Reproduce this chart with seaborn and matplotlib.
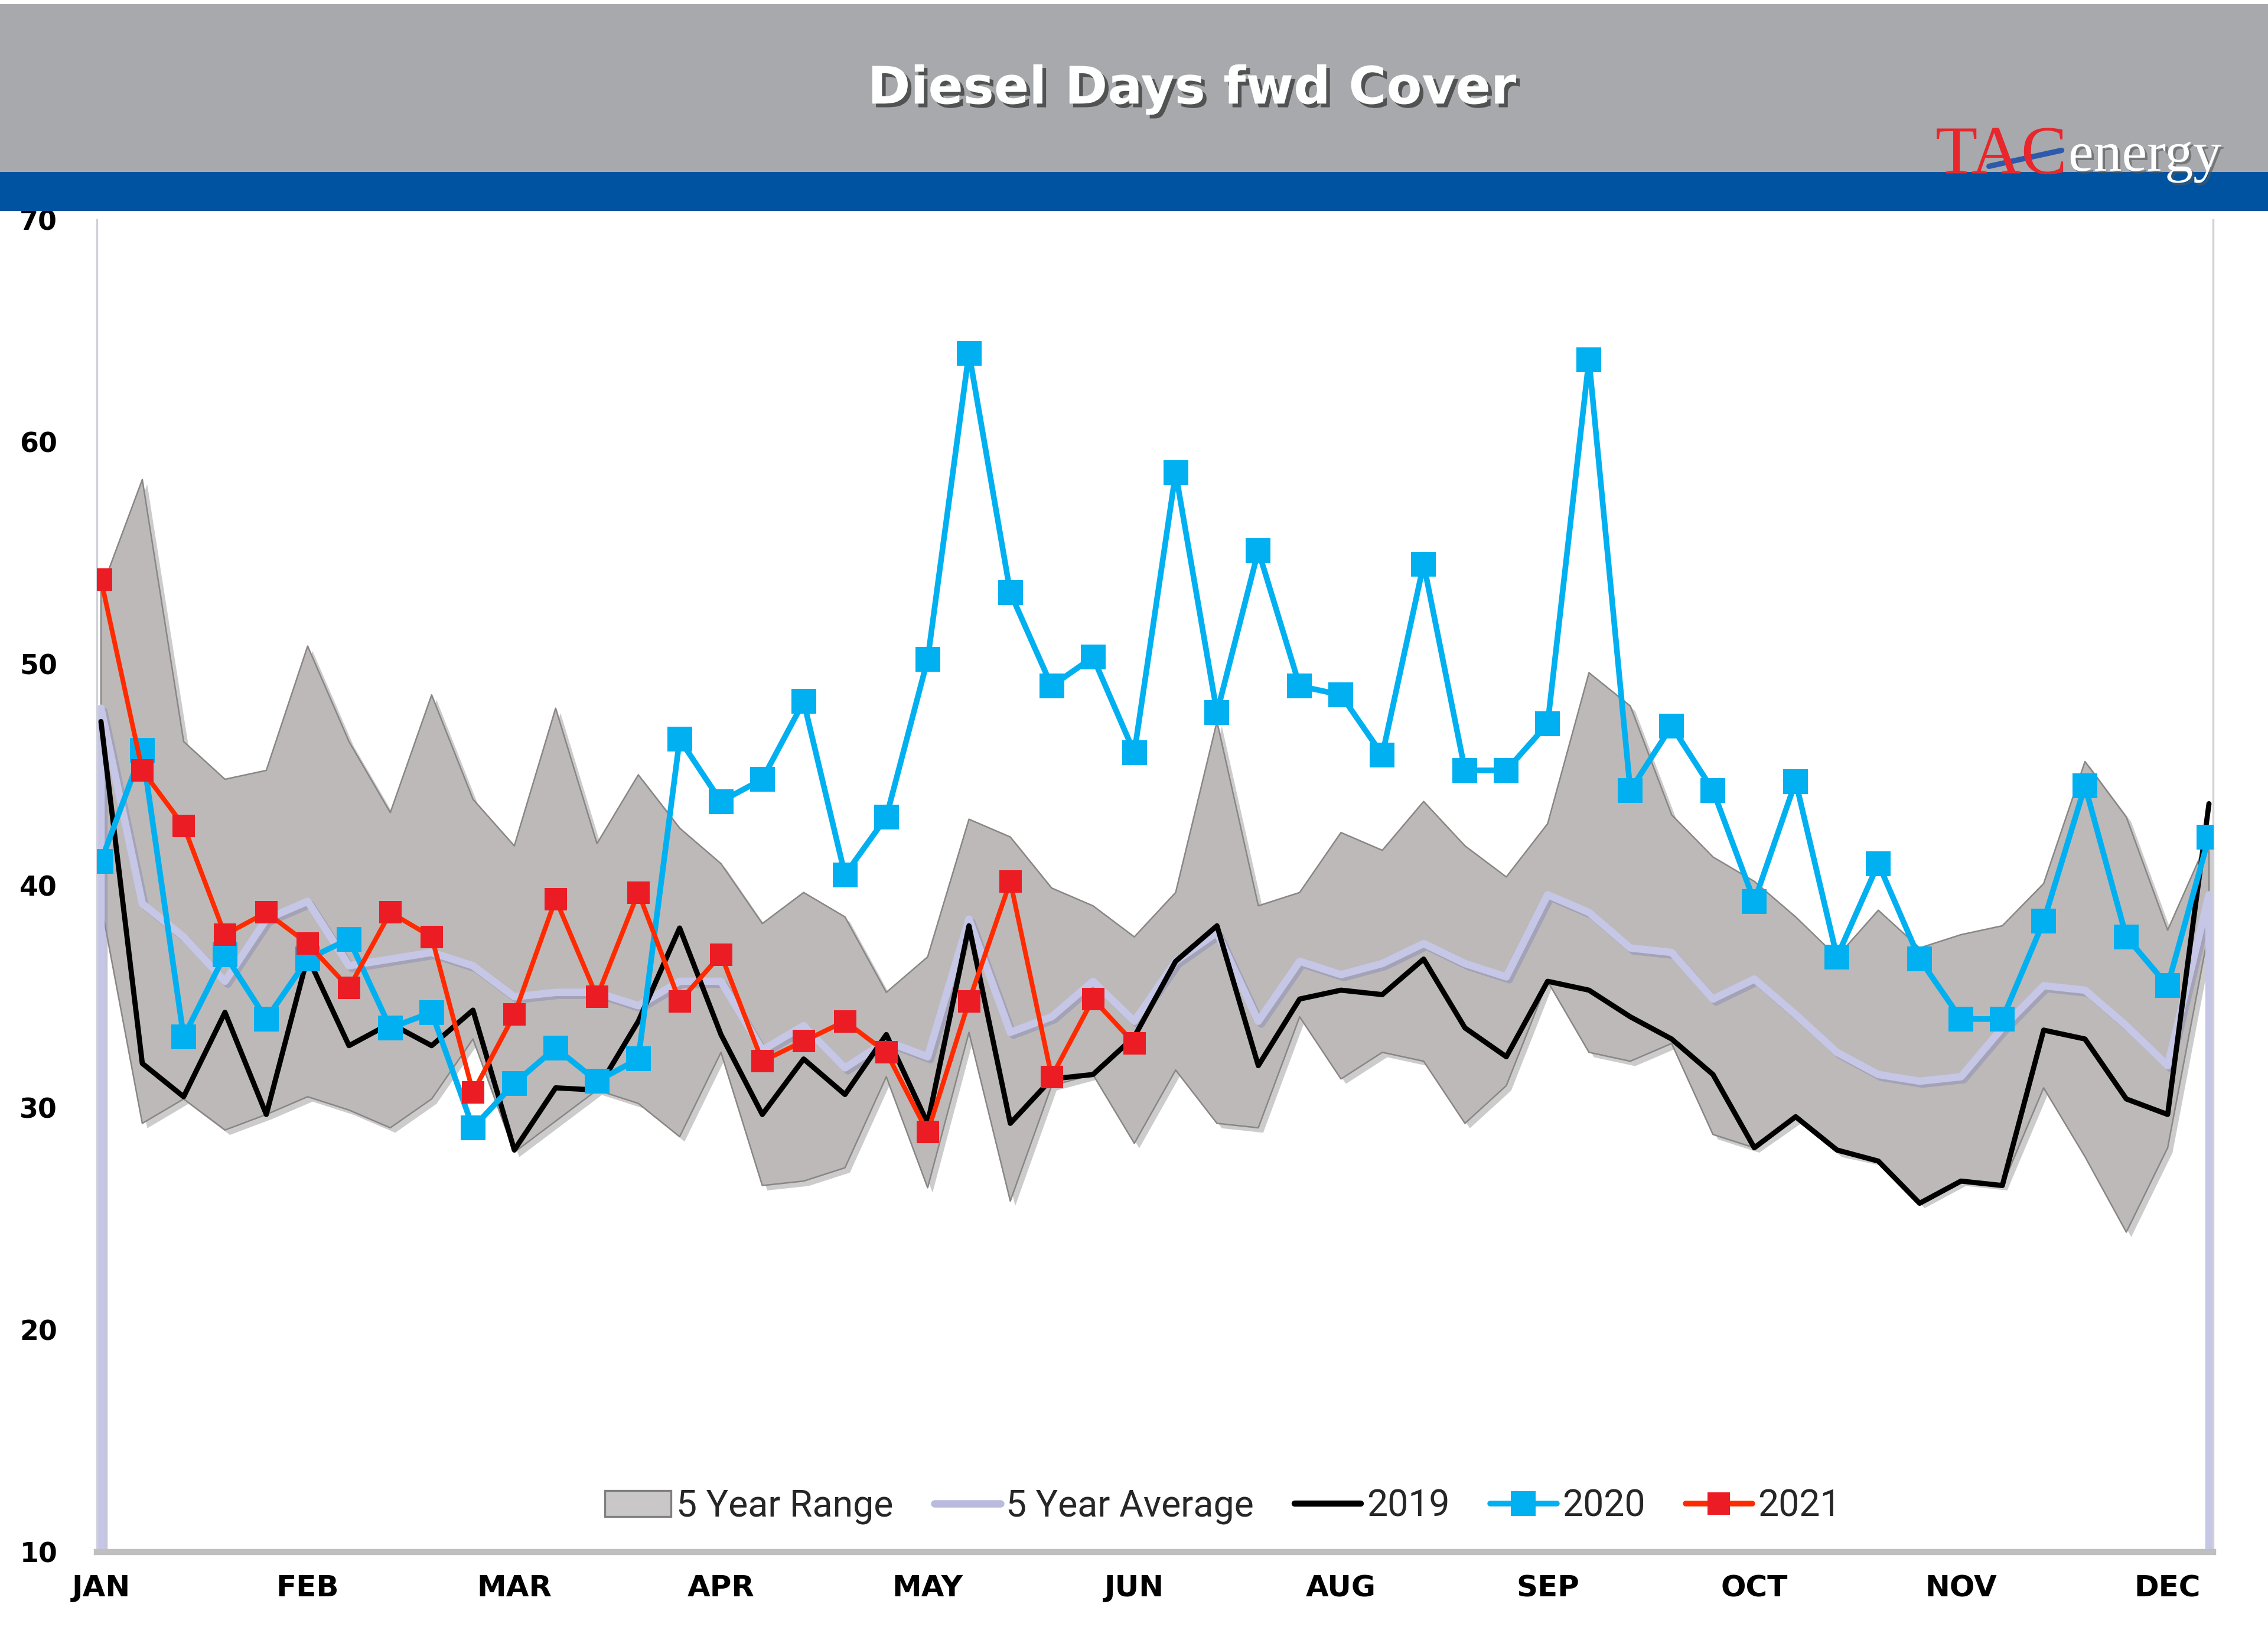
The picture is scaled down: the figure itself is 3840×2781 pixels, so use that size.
import matplotlib
matplotlib.use("Agg")
import matplotlib.pyplot as plt
import matplotlib.patheffects as pe
from matplotlib.lines import Line2D
from matplotlib.patches import Patch, Rectangle
import pandas as pd
import seaborn as sns

# weekly data, 52 weeks; x labels every 5 weeks (source chart skips JUL)
months = ["JAN", "FEB", "MAR", "APR", "MAY", "JUN", "AUG", "SEP", "OCT", "NOV", "DEC"]
weeks = list(range(52))

range_high = [53.3, 58.3, 46.5, 44.8, 45.2, 50.8, 46.5, 43.3, 48.6, 43.9,
              41.8, 48.0, 41.9, 45.0, 42.6, 41.0, 38.3, 39.7, 38.6, 35.2,
              36.8, 43.0, 42.2, 39.9, 39.1, 37.7, 39.7, 47.4, 39.1, 39.7,
              42.4, 41.6, 43.8, 41.8, 40.4, 42.8, 49.6, 48.1, 43.2, 41.3,
              40.2, 38.6, 36.8, 38.9, 37.2, 37.8, 38.2, 40.1, 45.6, 43.1,
              38.0, 42.2]
range_low = [39.2, 29.3, 30.4, 29.0, 29.7, 30.5, 29.9, 29.1, 30.4, 33.1,
             28.0, 29.4, 30.8, 30.2, 28.7, 32.5, 26.5, 26.7, 27.3, 31.4,
             26.4, 33.4, 25.8, 31.0, 31.5, 28.4, 31.7, 29.3, 29.1, 34.1,
             31.3, 32.5, 32.1, 29.3, 31.0, 35.7, 32.5, 32.1, 32.9, 28.8,
             28.2, 29.5, 28.0, 27.6, 25.7, 26.7, 26.5, 30.9, 27.8, 24.4,
             28.2, 38.0]
avg_5yr = [48.0, 39.2, 37.7, 35.7, 38.5, 39.3, 36.4, 36.7, 37.0, 36.4,
           35.0, 35.2, 35.2, 34.6, 35.7, 35.7, 32.6, 33.7, 31.8, 33.0,
           32.3, 38.5, 33.4, 34.1, 35.7, 33.9, 36.6, 37.9, 33.9, 36.6,
           36.0, 36.5, 37.4, 36.5, 35.9, 39.6, 38.8, 37.2, 37.0, 34.9,
           35.8, 34.2, 32.5, 31.5, 31.2, 31.4, 33.6, 35.5, 35.3, 33.7,
           31.9, 39.6]
y2019 = [47.4, 32.0, 30.5, 34.3, 29.7, 36.8, 32.8, 33.8, 32.8, 34.4,
         28.1, 30.9, 30.8, 33.9, 38.1, 33.3, 29.7, 32.2, 30.6, 33.3,
         29.3, 38.2, 29.3, 31.3, 31.5, 33.2, 36.6, 38.2, 31.9, 34.9,
         35.3, 35.1, 36.7, 33.6, 32.3, 35.7, 35.3, 34.1, 33.1, 31.5,
         28.2, 29.6, 28.1, 27.6, 25.7, 26.7, 26.5, 33.5, 33.1, 30.4,
         29.7, 43.7]
y2020 = [41.1, 46.1, 33.2, 36.9, 34.0, 36.7, 37.6, 33.6, 34.3, 29.1,
         31.1, 32.7, 31.2, 32.2, 46.6, 43.8, 44.8, 48.3, 40.5, 43.1,
         50.2, 64.0, 53.2, 49.0, 50.3, 46.0, 58.6, 47.8, 55.1, 49.0,
         48.6, 45.9, 54.5, 45.2, 45.2, 47.3, 63.7, 44.3, 47.2, 44.3,
         39.3, 44.7, 36.8, 41.0, 36.7, 34.0, 34.0, 38.4, 44.5, 37.7,
         35.5, 42.2]
y2021 = [53.8, 45.2, 42.7, 37.8, 38.8, 37.4, 35.4, 38.8, 37.7, 30.7,
         34.2, 39.4, 35.0, 39.7, 34.8, 36.9, 32.1, 33.0, 33.9, 32.5,
         28.9, 34.8, 40.2, 31.4, 34.9, 32.9]

GREY_FILL = "#BDB9B8"
AVG_COL = "#C6C7E6"
BLUE = "#00B0F0"
RED_LINE = "#FF2A00"
RED_MARK = "#EC1C24"


def main():
    sns.set_theme(style="white")
    plt.rcParams["font.family"] = ["DejaVu Sans"]

    df = pd.DataFrame({"week": weeks, "high": range_high, "low": range_low,
                       "avg": avg_5yr, "y2019": y2019, "y2020": y2020})
    df21 = pd.DataFrame({"week": weeks[:len(y2021)], "y2021": y2021})

    fig = plt.figure(figsize=(12.8, 9.27), dpi=300)
    fig.patch.set_facecolor("white")

    # header bands
    fig.patches.append(Rectangle((0, 0.8952), 1, 0.1022, transform=fig.transFigure,
                                 facecolor="#A7A9AC", edgecolor="none", zorder=0))
    fig.patches.append(Rectangle((0, 0.8715), 1, 0.0240, transform=fig.transFigure,
                                 facecolor="#0053A1", edgecolor="none", zorder=0))

    fig.text(0.5255, 0.9454, "Diesel Days fwd Cover", color="white", fontsize=21,
             fontweight="bold", ha="center", va="center",
             path_effects=[pe.withSimplePatchShadow(offset=(1.5, -1.5),
                                                     shadow_rgbFace="#3c3c3c", alpha=0.8)])

    # logo
    fig.text(0.8533, 0.8944, "TAC", color="#E8262B", fontsize=28,
             family="Liberation Serif", ha="left", va="baseline")
    fig.text(0.9120, 0.8961, "energy", color="white", fontsize=23,
             family="Liberation Serif", ha="left", va="baseline",
             path_effects=[pe.withSimplePatchShadow(offset=(1, -1),
                                                     shadow_rgbFace="#555555", alpha=0.6)])
    fig.lines.append(Line2D([0.877, 0.909], [0.8988, 0.9085], transform=fig.transFigure,
                            color="#2E5AAC", linewidth=2.2))

    ax = fig.add_axes([0.0427, 0.0555, 0.9331, 0.8107])

    # 5 year range
    ax.fill_between(df["week"], df["low"], df["high"], facecolor=GREY_FILL,
                    edgecolor="#8A8686", linewidth=0.6, zorder=1,
                    path_effects=[pe.withSimplePatchShadow(offset=(2, -2),
                                                            shadow_rgbFace="#6f6f6f", alpha=0.35)])

    # Excel draws the blank ends of the average series as zero
    avg_x = [weeks[0]] + weeks + [weeks[-1]]
    avg_y = [0] + avg_5yr + [0]
    ax.plot(avg_x, avg_y, color=AVG_COL, linewidth=3.0, zorder=2,
            solid_joinstyle="round",
            path_effects=[pe.SimpleLineShadow(offset=(1.2, -1.2), shadow_color="#8d8db5", alpha=0.5),
                          pe.Normal()])

    sns.lineplot(data=df, x="week", y="y2019", ax=ax, color="black", linewidth=2.1,
                 zorder=3, legend=False)
    sns.lineplot(data=df, x="week", y="y2020", ax=ax, color=BLUE, linewidth=2.3,
                 marker="s", markersize=10, markeredgewidth=0, zorder=4, legend=False)
    sns.lineplot(data=df21, x="week", y="y2021", ax=ax, color=RED_LINE, linewidth=1.9,
                 marker="s", markersize=9, markerfacecolor=RED_MARK,
                 markeredgewidth=0, zorder=5, legend=False)

    ax.set_xlim(-0.1, 51.1)
    ax.set_ylim(10, 70)
    ax.set_xticks(weeks[::5])
    ax.set_xticklabels(months)
    ax.set_yticks(range(10, 71, 10))
    ax.set_xlabel("")
    ax.set_ylabel("")
    ax.tick_params(axis="x", length=0, pad=9, labelsize=12)
    ax.tick_params(axis="y", length=0, pad=16, labelsize=11)
    for lbl in ax.get_xticklabels() + ax.get_yticklabels():
        lbl.set_fontweight("bold")
        lbl.set_color("black")

    ax.spines["top"].set_visible(False)
    ax.spines["bottom"].set_color("#BFBFBF")
    ax.spines["bottom"].set_linewidth(2.5)
    ax.spines["left"].set_color("#D0D0D8")
    ax.spines["left"].set_linewidth(0.8)
    ax.spines["right"].set_color("#D0D0D8")
    ax.spines["right"].set_linewidth(0.8)
    ax.grid(False)

    handles = [
        Patch(facecolor="#C9C7C7", edgecolor="#7F7F7F", linewidth=0.8),
        Line2D([], [], color="#B9BADD", linewidth=3),
        Line2D([], [], color="black", linewidth=2.5),
        Line2D([], [], color=BLUE, linewidth=2.3, marker="s", markersize=10, markeredgewidth=0),
        Line2D([], [], color=RED_LINE, linewidth=2.3, marker="s", markersize=9,
               markerfacecolor=RED_MARK, markeredgewidth=0),
    ]
    labels = ["5 Year Range", "5 Year Average", "2019", "2020", "2021"]
    ax.legend(handles, labels, loc="center", bbox_to_anchor=(0.532, 0.034), ncol=5,
              frameon=False, handlelength=1.8, handletextpad=0.15, columnspacing=1.1,
              prop={"family": "Roboto", "size": 15})

    fig.savefig("out.png", dpi=300)


if __name__ == "__main__":
    main()
